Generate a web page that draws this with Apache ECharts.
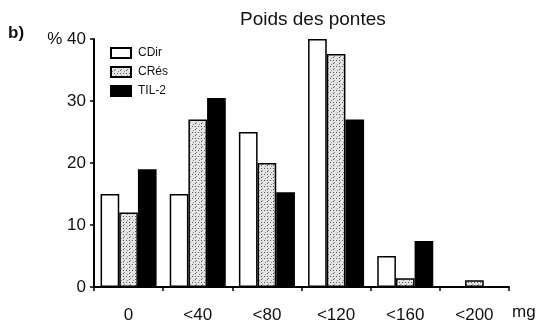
<!DOCTYPE html>
<html>
<head>
<meta charset="utf-8">
<script src="https://cdn.jsdelivr.net/npm/echarts@6/dist/echarts.min.js"></script>
<style>
  html, body { margin: 0; padding: 0; background: #fff; }
  #chart { width: 543px; height: 324px; }
</style>
</head>
<body>
<div id="chart"></div>
<script>
// Egg-clutch weight classes (mg) and share of clutches (%)
const categories = ['0', '<40', '<80', '<120', '<160', '<200'];
const cdir = [15, 15, 25, 40, 5, 0];
const cres = [12, 27, 20, 37.6, 1.4, 1.1];
const til2 = [19, 30.5, 15.3, 27, 7.4, 0];
const yTicks = [0, 10, 20, 30, 40];

// Stippled fill for the CRés bars
function stipple() {
  const c = document.createElement('canvas');
  c.width = 6; c.height = 6;
  const g = c.getContext('2d');
  g.fillStyle = '#e4e4e4';
  g.fillRect(0, 0, 6, 6);
  g.fillStyle = '#555';
  g.fillRect(0, 0, 1, 1);
  g.fillRect(3, 3, 1, 1);
  g.fillRect(3, 0, 1, 1);
  g.fillStyle = '#888';
  g.fillRect(1, 4, 1, 1);
  g.fillRect(4, 2, 1, 1);
  return { image: c, repeat: 'repeat' };
}

const font = 'Liberation Sans, Arial, sans-serif';
const chart = echarts.init(document.getElementById('chart'), null, { renderer: 'canvas' });

const barBase = { type: 'bar', barGap: '0%', barCategoryGap: '19%', animation: false };

chart.setOption({
  backgroundColor: '#fff',
  title: {
    text: 'Poids des pontes',
    left: 240, top: 10,
    padding: 0,
    textStyle: { fontFamily: font, fontSize: 19, fontWeight: 'normal', color: '#111' }
  },
  legend: {
    orient: 'vertical',
    left: 110, top: 47,
    padding: 0,
    icon: 'rect',
    itemWidth: 20, itemHeight: 10, itemGap: 7,
    textStyle: { fontFamily: font, fontSize: 12, color: '#111', padding: [0, 0, 0, 2] },
    data: ['CDir', 'CRés', 'TIL-2']
  },
  grid: { left: 94, right: 34, top: 39, bottom: 36 },
  xAxis: {
    type: 'category',
    data: categories,
    axisLine: { lineStyle: { color: '#000', width: 2 } },
    axisTick: { show: true, length: 4, lineStyle: { color: '#000', width: 1.5 } },
    axisLabel: { fontFamily: font, fontSize: 17, color: '#111', margin: 20 }
  },
  yAxis: {
    type: 'value',
    min: yTicks[0], max: yTicks[yTicks.length - 1], interval: 10,
    splitLine: { show: false },
    axisLine: { show: true, lineStyle: { color: '#000', width: 2 } },
    axisTick: { show: true, length: 4, lineStyle: { color: '#000', width: 1.5 } },
    axisLabel: {
      fontFamily: font, fontSize: 17, color: '#111', margin: 8,
      formatter: v => (v === 40 ? '% 40' : String(v))
    }
  },
  graphic: [
    { type: 'text', left: 8, top: 25, style: { text: 'b)', font: 'bold 17px ' + font, fill: '#111' } },
    { type: 'text', left: 512, top: 304, style: { text: 'mg', font: '17px ' + font, fill: '#111' } }
  ],
  series: [
    Object.assign({}, barBase, {
      name: 'CDir', data: cdir,
      itemStyle: { color: '#fff', borderColor: '#000', borderWidth: 1.5 }
    }),
    Object.assign({}, barBase, {
      name: 'CRés', data: cres,
      itemStyle: { color: stipple(), borderColor: '#000', borderWidth: 1.5 }
    }),
    Object.assign({}, barBase, {
      name: 'TIL-2', data: til2,
      itemStyle: { color: '#000', borderColor: '#000', borderWidth: 1.5 }
    })
  ]
});
</script>
</body>
</html>
